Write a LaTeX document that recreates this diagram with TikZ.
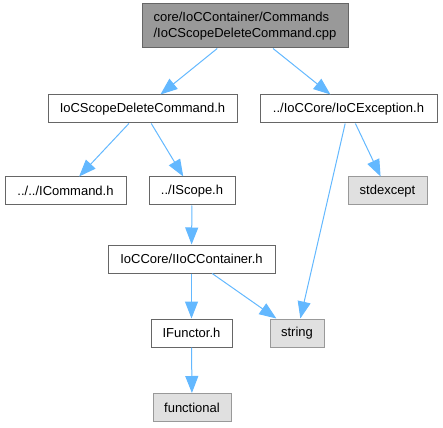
\documentclass[tikz,border=0pt]{standalone}
\usepackage{fontspec}
\setmainfont{Liberation Sans}
\usetikzlibrary{arrows.meta}
\definecolor{edgeblue}{HTML}{63B8FF}
\definecolor{boxline}{HTML}{666666}
\definecolor{sysfill}{HTML}{E0E0E0}
\definecolor{sysline}{HTML}{999999}
\definecolor{topfill}{HTML}{999999}
\tikzset{
  fileitem/.style={draw=boxline, fill=white, line width=1pt, inner sep=0pt,
    minimum height=28pt, font=\fontsize{13}{15.5}\selectfont},
  sysitem/.style={fileitem, draw=sysline, fill=sysfill},
  topitem/.style={fileitem, fill=topfill, minimum height=44pt, align=left},
  incl/.style={draw=edgeblue, line width=1pt, -{Triangle[length=17pt, width=13pt]}}
}
\begin{document}
\begin{tikzpicture}
  \useasboundingbox (0pt,0pt) rectangle (443pt,-427pt);

  % files of the graph
  \node[topitem, minimum width=206pt] (cpp) at (245pt,-26pt) {core/IoCContainer/Commands\\/IoCScopeDeleteCommand.cpp};
  \node[fileitem, minimum width=189pt] (cmdh) at (142.5pt,-109pt) {IoCScopeDeleteCommand.h};
  \node[fileitem, minimum width=177pt] (exch) at (348.5pt,-109pt) {../IoCCore/IoCException.h};
  \node[fileitem, minimum width=121pt] (icmd) at (65.5pt,-191pt) {../../ICommand.h};
  \node[fileitem, minimum width=86pt] (iscope) at (192pt,-191pt) {../IScope.h};
  \node[sysitem, minimum width=79pt] (stdexc) at (387.5pt,-191pt) {stdexcept};
  \node[fileitem, minimum width=167pt] (cont) at (191.5pt,-259pt) {IoCCore/IIoCContainer.h};
  \node[fileitem, minimum width=81pt] (functor) at (191.5pt,-333pt) {IFunctor.h};
  \node[sysitem, minimum width=54pt] (str) at (297pt,-333pt) {string};
  \node[sysitem, minimum width=78pt] (func) at (192pt,-407.5pt) {functional};

  % includes
  \draw[incl] (cpp) -- (cmdh);
  \draw[incl] (cpp) -- (exch);
  \draw[incl] (cmdh) -- (icmd);
  \draw[incl] (cmdh) -- (iscope);
  \draw[incl] (exch) -- (stdexc);
  \draw[incl] (exch) -- (str);
  \draw[incl] (iscope) -- (cont);
  \draw[incl] (cont) -- (functor);
  \draw[incl] (cont) -- (str);
  \draw[incl] (functor) -- (func);
\end{tikzpicture}
\end{document}
